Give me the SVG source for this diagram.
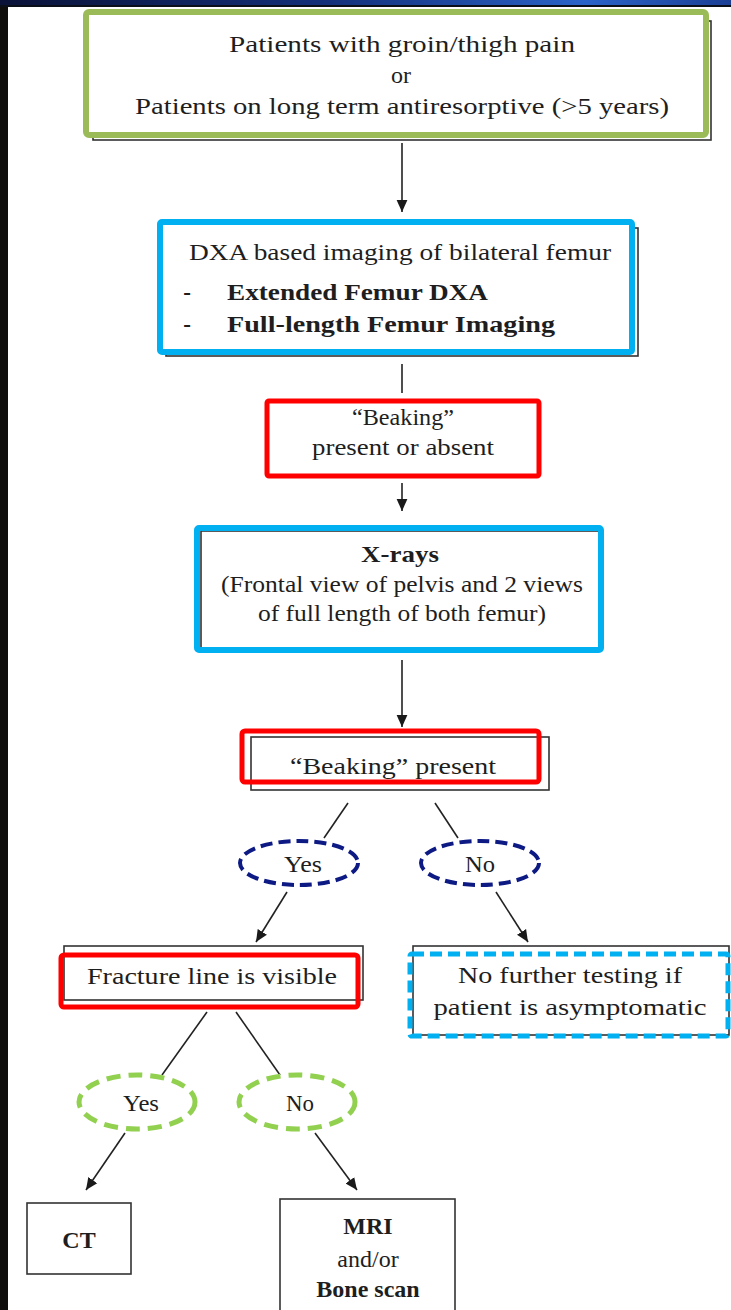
<svg xmlns="http://www.w3.org/2000/svg" width="731" height="1310" viewBox="0 0 731 1310">
  <defs>
    <linearGradient id="bar" x1="0" y1="0" x2="1" y2="0">
      <stop offset="0" stop-color="#0a1238"/>
      <stop offset="0.45" stop-color="#14307a"/>
      <stop offset="0.8" stop-color="#2a63c8"/>
      <stop offset="1" stop-color="#1b3f95"/>
    </linearGradient>
    <marker id="arrow" viewBox="0 0 10 10" refX="10" refY="5" markerUnits="userSpaceOnUse" markerWidth="12" markerHeight="12" orient="auto">
      <path d="M0,0.5 L10,5 L0,9.5 z" fill="#1a1a1a"/>
    </marker>
    <style>
      text { font-family: "Liberation Serif", "Times New Roman", serif; fill: #1e1e1e; text-anchor: middle; }
      .b { font-weight: bold; }
      .plain { fill: none; stroke: #333; stroke-width: 1.6; }
      .green { fill: none; stroke: #9bbb59; stroke-width: 6; }
      .blue { fill: none; stroke: #00b0f0; stroke-width: 6; }
      .red { fill: none; stroke: #ff0000; stroke-width: 5; }
      .conn line { stroke: #222; stroke-width: 1.6; }
      .navy { fill: none; stroke: #0d1a84; stroke-width: 4; stroke-dasharray: 12 6; }
      .lime { fill: none; stroke: #92d050; stroke-width: 5; stroke-dasharray: 14 8; }
    </style>
  </defs>

  <!-- page frame -->
  <rect x="0" y="0" width="731" height="1310" fill="#ffffff"/>
  <rect x="0" y="0" width="8" height="1310" fill="#0f0e0c"/>
  <rect x="0" y="0" width="731" height="6" fill="url(#bar)"/>
  <rect x="0" y="5" width="731" height="2" fill="#0b0f1a"/>

  <!-- connectors -->
  <g id="connectors" class="conn">
    <line x1="402" y1="143" x2="402" y2="212" marker-end="url(#arrow)"/>
    <line x1="402" y1="364" x2="402" y2="393"/>
    <line x1="402" y1="483" x2="402" y2="511" marker-end="url(#arrow)"/>
    <line x1="402" y1="660" x2="402" y2="727" marker-end="url(#arrow)"/>
    <line x1="348" y1="803" x2="324" y2="838"/>
    <line x1="435" y1="803" x2="458" y2="838"/>
    <line x1="287" y1="892" x2="256" y2="942" marker-end="url(#arrow)"/>
    <line x1="496" y1="892" x2="528" y2="942" marker-end="url(#arrow)"/>
    <line x1="207" y1="1012" x2="162" y2="1075"/>
    <line x1="236" y1="1012" x2="280" y2="1075"/>
    <line x1="125" y1="1133" x2="86" y2="1190" marker-end="url(#arrow)"/>
    <line x1="315" y1="1133" x2="357" y2="1190" marker-end="url(#arrow)"/>
  </g>

  <!-- start -->
  <g id="start">
    <rect class="plain" x="93" y="21" width="618" height="119"/>
    <rect x="86" y="12" width="620" height="123" rx="3" fill="#fff" stroke="none"/>
    <rect class="green" x="86" y="12" width="620" height="123" rx="3"/>
    <text x="402" y="52" font-size="24" textLength="346" lengthAdjust="spacingAndGlyphs">Patients with groin/thigh pain</text>
    <text x="401" y="83" font-size="24">or</text>
    <text x="402" y="114" font-size="24" textLength="534" lengthAdjust="spacingAndGlyphs">Patients on long term antiresorptive (&gt;5 years)</text>
  </g>

  <!-- DXA imaging -->
  <g id="dxa">
    <rect class="plain" x="166" y="228" width="472" height="128"/>
    <rect x="160" y="222" width="472" height="130" fill="#fff"/>
    <rect class="blue" x="160" y="222" width="472" height="130" rx="2"/>
    <text x="400" y="260" font-size="24" textLength="422" lengthAdjust="spacingAndGlyphs">DXA based imaging of bilateral femur</text>
    <text x="187" y="300" font-size="23" class="b">-</text>
    <text x="227" y="300" font-size="24" class="b" style="text-anchor:start" textLength="261" lengthAdjust="spacingAndGlyphs">Extended Femur DXA</text>
    <text x="187" y="332" font-size="23" class="b">-</text>
    <text x="227" y="332" font-size="24" class="b" style="text-anchor:start" textLength="328" lengthAdjust="spacingAndGlyphs">Full-length Femur Imaging</text>
  </g>

  <!-- beaking present or absent -->
  <g id="beaking1">
    <rect x="267" y="401" width="272" height="75" fill="#fff"/>
    <rect class="red" x="267" y="401" width="272" height="75" rx="2"/>
    <text x="403" y="425" font-size="24" textLength="102" lengthAdjust="spacingAndGlyphs">“Beaking”</text>
    <text x="403" y="455" font-size="24" textLength="182" lengthAdjust="spacingAndGlyphs">present or absent</text>
  </g>

  <!-- X-rays -->
  <g id="xrays">
    <rect class="plain" x="201" y="531" width="398" height="118"/>
    <rect class="blue" x="197" y="528" width="404" height="122" rx="2"/>
    <text x="400" y="562" font-size="24" class="b" textLength="78" lengthAdjust="spacingAndGlyphs">X-rays</text>
    <text x="402" y="592" font-size="24" textLength="362" lengthAdjust="spacingAndGlyphs">(Frontal view of pelvis and 2 views</text>
    <text x="402" y="621" font-size="24" textLength="288" lengthAdjust="spacingAndGlyphs">of full length of both femur)</text>
  </g>

  <!-- beaking present -->
  <g id="beaking2">
    <rect class="plain" x="251" y="737" width="298" height="53"/>
    <rect class="red" x="242" y="731" width="297" height="51" rx="3"/>
    <text x="393" y="774" font-size="24" textLength="206" lengthAdjust="spacingAndGlyphs">“Beaking” present</text>
  </g>

  <!-- yes / no after beaking -->
  <g id="yes1">
    <ellipse class="navy" cx="299" cy="863" rx="59" ry="22"/>
    <text x="303" y="872" font-size="24" textLength="38" lengthAdjust="spacingAndGlyphs">Yes</text>
  </g>
  <g id="no1">
    <ellipse class="navy" cx="480" cy="863" rx="59" ry="22"/>
    <text x="480" y="872" font-size="24" textLength="30" lengthAdjust="spacingAndGlyphs">No</text>
  </g>

  <!-- fracture line -->
  <g id="fracture">
    <rect class="plain" x="64" y="946" width="299" height="54"/>
    <rect class="red" x="61" y="955" width="297" height="52" rx="3"/>
    <text x="212" y="984" font-size="24" textLength="250" lengthAdjust="spacingAndGlyphs">Fracture line is visible</text>
  </g>

  <!-- no further testing -->
  <g id="nofurther">
    <rect class="plain" x="413" y="946" width="316" height="89"/>
    <rect x="410" y="954" width="318" height="82" rx="2" fill="none" stroke="#00b0f0" stroke-width="5" stroke-dasharray="12 6"/>
    <text x="570" y="983" font-size="24" textLength="224" lengthAdjust="spacingAndGlyphs">No further testing if</text>
    <text x="570" y="1015" font-size="24" textLength="273" lengthAdjust="spacingAndGlyphs">patient is asymptomatic</text>
  </g>

  <!-- yes / no after fracture -->
  <g id="yes2">
    <ellipse class="lime" cx="137" cy="1102" rx="58" ry="27"/>
    <text x="141" y="1111" font-size="24" textLength="36" lengthAdjust="spacingAndGlyphs">Yes</text>
  </g>
  <g id="no2">
    <ellipse class="lime" cx="297" cy="1102" rx="58" ry="27"/>
    <text x="300" y="1111" font-size="24" textLength="28" lengthAdjust="spacingAndGlyphs">No</text>
  </g>

  <!-- outcomes -->
  <g id="ct">
    <rect class="plain" x="27" y="1203" width="104" height="71"/>
    <text x="79" y="1248" font-size="24" class="b">CT</text>
  </g>
  <g id="mri">
    <rect class="plain" x="280" y="1199" width="175" height="120"/>
    <text x="368" y="1234" font-size="24" class="b">MRI</text>
    <text x="368" y="1267" font-size="24">and/or</text>
    <text x="368" y="1297" font-size="24" class="b">Bone scan</text>
  </g>
</svg>
